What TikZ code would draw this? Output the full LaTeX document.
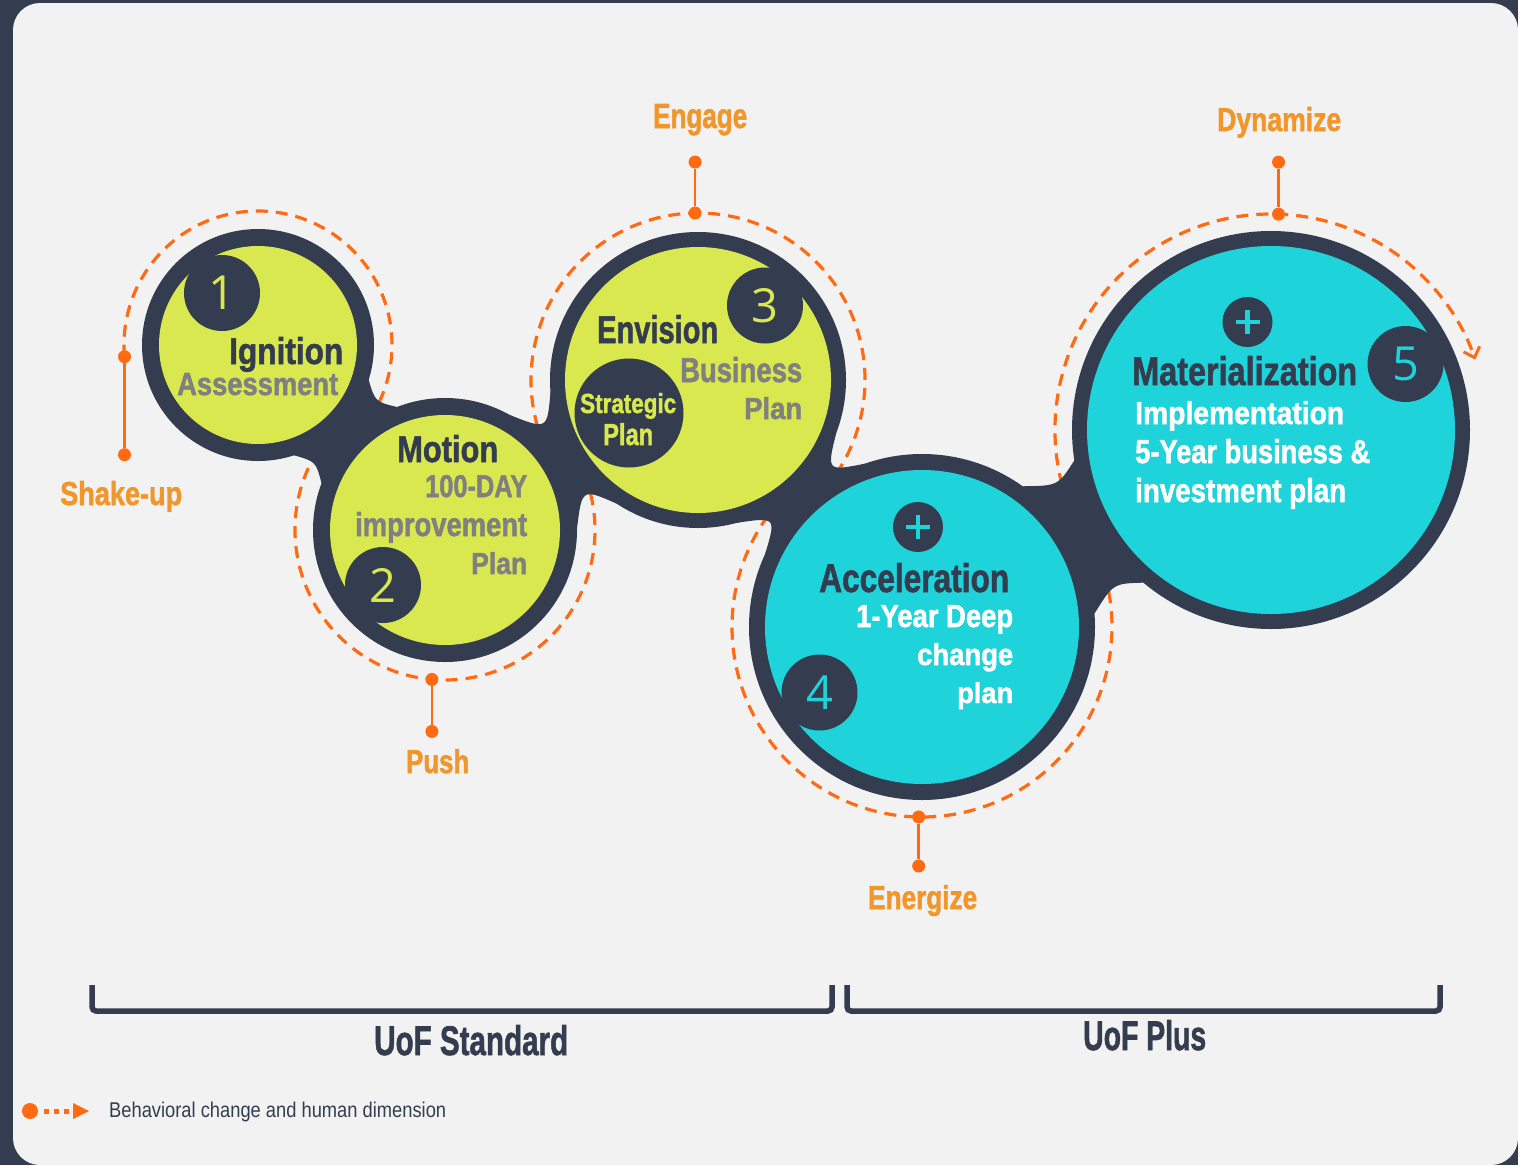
\documentclass[tikz,border=0pt]{standalone}
\usepackage{fontspec}
\usepackage{graphicx}
\usetikzlibrary{calc,arrows.meta}
\setmainfont{Liberation Sans}
\newfontfamily\hv{Liberation Sans}
\newfontfamily\hvb[FakeBold=1.6]{Liberation Sans Bold}
\newfontfamily\digitfont{Open Sans}
\definecolor{navy}{RGB}{51,61,79}
\definecolor{lime}{RGB}{216,232,78}
\definecolor{cyanf}{RGB}{31,211,218}
\definecolor{txtgray}{RGB}{128,128,128}
\definecolor{dashor}{RGB}{255,106,19}
\definecolor{lblor}{RGB}{240,150,42}
\definecolor{bgl}{RGB}{242,242,242}
\newcommand\ft[3]{\resizebox{#1pt}{#2pt}{\hvb #3}}
\newcommand\neck[9]{\fill[navy] ($(#1)+({#6+#7}:#4)$) .. controls ($(#3)+({#6+90}:#9)$) .. ($(#2)+({#6+180-#8}:#5)$) -- ($(#2)+({#6+180+#8}:#5)$) .. controls ($(#3)+({#6-90}:#9)$) .. ($(#1)+({#6-#7}:#4)$) -- cycle;}
\begin{document}
\begin{tikzpicture}[x=1pt,y=1pt,
  txt/.style={inner sep=0pt, anchor=base west},
  dashring/.style={draw=dashor, line width=3.2pt, dash pattern=on 12pt off 8pt},
  marker/.style={draw=dashor, line width=2.6pt},
  mdot/.style={circle, fill=dashor, inner sep=0pt, minimum size=13pt},
  badge/.style={circle, fill=navy, inner sep=0pt, minimum size=76pt},
  plusbadge/.style={circle, fill=navy, inner sep=0pt, minimum size=50pt},
  outerc/.style={circle, fill=navy, inner sep=0pt},
  innerc/.style={circle, inner sep=0pt},
  digit/.style={inner sep=0pt, font=\digitfont\fontsize{47}{47}\selectfont},
  lbl/.style={inner sep=0pt, anchor=base west, text=lblor},
  bracket/.style={draw=navy, line width=5.5pt, rounded corners=4pt}
]
\useasboundingbox (0,0) rectangle (1518,-1165);
\fill[navy] (0,0) rectangle (1518,-1165);
\fill[bgl, rounded corners=27pt] (13,-3) rectangle (1518,-1165);

% centres
\coordinate (c1) at (258,-345);
\coordinate (c2) at (445,-530);
\coordinate (c3) at (698,-380);
\coordinate (c4) at (922,-627);
\coordinate (c5) at (1271,-430);
\coordinate (m12) at (345.4,-431.5);
\coordinate (m23) at (564.6,-459.1);
\coordinate (m34) at (801.5,-494.1);
\coordinate (m45) at (1085.7,-534.6);

% dashed behaviour path
\draw[dashring] ($(c1)+(185:134)$) arc[start angle=185, end angle=-40, radius=134];
\draw[dashring] ($(c2)+(148:150)$) arc[start angle=148, end angle=390, radius=150];
\draw[dashring] ($(c3)+(210:167)$) arc[start angle=210, end angle=-50, radius=167];
\draw[dashring] ($(c4)+(138:190)$) arc[start angle=138, end angle=385, radius=190];
\draw[dashring, -{Straight Barb[length=9pt,width=17pt,line width=3pt]}] ($(c5)+(200:216)$) arc[start angle=200, end angle=19, radius=216];

% markers
\node[mdot] (d1a) at ($(c1)+(185:134)$) {};
\node[mdot] (d1b) at ($(c1)+(185:134)+(0,-98)$) {};
\draw[marker] (d1a) -- (d1b);
\node[mdot] (d2a) at ($(c2)+(265:150)$) {};
\node[mdot] (d2b) at ($(c2)+(265:150)+(0,-52)$) {};
\draw[marker] (d2a) -- (d2b);
\node[mdot] (d3a) at ($(c3)+(91:167)$) {};
\node[mdot] (d3b) at ($(c3)+(91:167)+(0,51)$) {};
\draw[marker] (d3a) -- (d3b);
\node[mdot] (d4a) at ($(c4)+(269:190)$) {};
\node[mdot] (d4b) at ($(c4)+(269:190)+(0,-49)$) {};
\draw[marker] (d4a) -- (d4b);
\node[mdot] (d5a) at ($(c5)+(88:216)$) {};
\node[mdot] (d5b) at ($(c5)+(88:216)+(0,52)$) {};
\draw[marker] (d5a) -- (d5b);

\node[lbl] (lshake) at (60,-505) {\ft{122}{24}{Shake-up}};
\node[lbl] (lpush) at (406,-773) {\ft{63}{24}{Push}};
\node[lbl] (lengage) at (653,-128) {\ft{94}{24}{Engage}};
\node[lbl] (lenergize) at (868,-909) {\ft{109}{24}{Energize}};
\node[lbl] (ldynamize) at (1217,-131) {\ft{124}{24}{Dynamize}};

% necks
\neck{c1}{c2}{m12}{115}{132}{-44.7}{28}{24}{42}
\neck{c2}{c3}{m23}{132}{148}{30.66}{30}{26}{34}
\neck{c3}{c4}{m34}{148}{173}{-47.8}{27}{23}{34}
\neck{c4}{c5}{m45}{173}{198}{29.44}{25}{21}{56}

% circles
\node[outerc, minimum size=232pt] (o1) at (c1) {};
\node[innerc, fill=lime, minimum size=198pt] (i1) at (c1) {};
\node[outerc, minimum size=264pt] (o2) at (c2) {};
\node[innerc, fill=lime, minimum size=230pt] (i2) at (c2) {};
\node[outerc, minimum size=296pt] (o3) at (c3) {};
\node[innerc, fill=lime, minimum size=266pt] (i3) at (c3) {};
\node[outerc, minimum size=346pt] (o4) at (c4) {};
\node[innerc, fill=cyanf, minimum size=314pt] (i4) at (c4) {};
\node[outerc, minimum size=398pt] (o5) at (c5) {};
\node[innerc, fill=cyanf, minimum size=368pt] (i5) at (c5) {};

% badges
\node[badge] (b1) at (222,-293) {};
\node[digit, text=lime] at (b1) {1};
\node[badge] (b2) at (383,-585) {};
\node[digit, text=lime] at (b2) {2};
\node[badge] (b3) at (765,-305.5) {};
\node[digit, text=lime] at (b3) {3};
\node[badge] (b4) at (819.5,-692.5) {};
\node[digit, text=cyanf] at (b4) {4};
\node[badge] (b5) at (1405.5,-364) {};
\node[digit, text=cyanf] at (b5) {5};
\node[circle, fill=navy, inner sep=0pt, minimum size=109pt] (sp) at (629,-413) {};
\node[plusbadge] (p4) at (918,-527) {};
\draw[cyanf, line width=4.5pt] ($(p4)+(-12,0)$) -- ($(p4)+(12,0)$) ($(p4)+(0,-12)$) -- ($(p4)+(0,12)$);
\node[plusbadge] (p5) at (1247.5,-322) {};
\draw[cyanf, line width=4.5pt] ($(p5)+(-12,0)$) -- ($(p5)+(12,0)$) ($(p5)+(0,-12)$) -- ($(p5)+(0,12)$);

% texts circle 1
\node[txt, text=navy] (t1a) at (229,-364) {\ft{114}{27}{Ignition}};
\node[txt, text=txtgray] (t1b) at (177,-395) {\ft{161}{22}{Assessment}};
% circle 2
\node[txt, text=navy] (t2a) at (397,-462) {\ft{101}{27}{Motion}};
\node[txt, text=txtgray] (t2b) at (425,-497) {\ft{102}{22}{100-DAY}};
\node[txt, text=txtgray] (t2c) at (355,-536) {\ft{172}{24}{improvement}};
\node[txt, text=txtgray] (t2d) at (471,-574) {\ft{56}{22}{Plan}};
% circle 3
\node[txt, text=navy] (t3a) at (597,-343) {\ft{121}{28}{Envision}};
\node[txt, text=txtgray] (t3b) at (680,-382) {\ft{122}{25}{Business}};
\node[txt, text=txtgray] (t3c) at (744,-419) {\ft{58}{22}{Plan}};
\node[txt, text=lime] (t3d) at (580,-413) {\ft{96}{20}{Strategic}};
\node[txt, text=lime] (t3e) at (603,-445) {\ft{50}{22}{Plan}};
% circle 4
\node[txt, text=navy] (t4a) at (819,-592) {\ft{190}{29}{Acceleration}};
\node[txt, text=white] (t4b) at (856,-627) {\ft{157}{22}{1-Year Deep}};
\node[txt, text=white] (t4c) at (917,-665) {\ft{96}{22}{change}};
\node[txt, text=white] (t4d) at (957,-703) {\ft{56}{21}{plan}};
% circle 5
\node[txt, text=navy] (t5a) at (1132,-385) {\ft{225}{29}{Materialization}};
\node[txt, text=white] (t5b) at (1135,-424) {\ft{209}{23}{Implementation}};
\node[txt, text=white] (t5c) at (1135,-463) {\ft{235}{24}{5-Year business \&}};
\node[txt, text=white] (t5d) at (1135,-502) {\ft{211}{24}{investment plan}};

% brackets
\draw[bracket] (92,-985) -- (92,-1011) -- (832,-1011) -- (832,-985);
\draw[bracket] (847,-985) -- (847,-1011) -- (1440,-1011) -- (1440,-985);
\node[txt, text=navy] (ustd) at (374,-1055) {\ft{194}{30}{UoF Standard}};
\node[txt, text=navy] (uplus) at (1083,-1050) {\ft{123}{30}{UoF Plus}};

% legend
\node[circle, fill=dashor, inner sep=0pt, minimum size=16pt] (lg) at (30,-1111) {};
\fill[dashor] (43.5,-1108.5) rectangle (49,-1113.5);
\fill[dashor] (53.5,-1108.5) rectangle (59,-1113.5);
\fill[dashor] (63.5,-1108.5) rectangle (69,-1113.5);
\fill[dashor] (73,-1103) -- (89,-1111) -- (73,-1119) -- cycle;
\node[txt, text=navy] (lgt) at (109,-1117) {\resizebox{337pt}{15.5pt}{\hv Behavioral change and human dimension}};
\end{tikzpicture}
\end{document}
